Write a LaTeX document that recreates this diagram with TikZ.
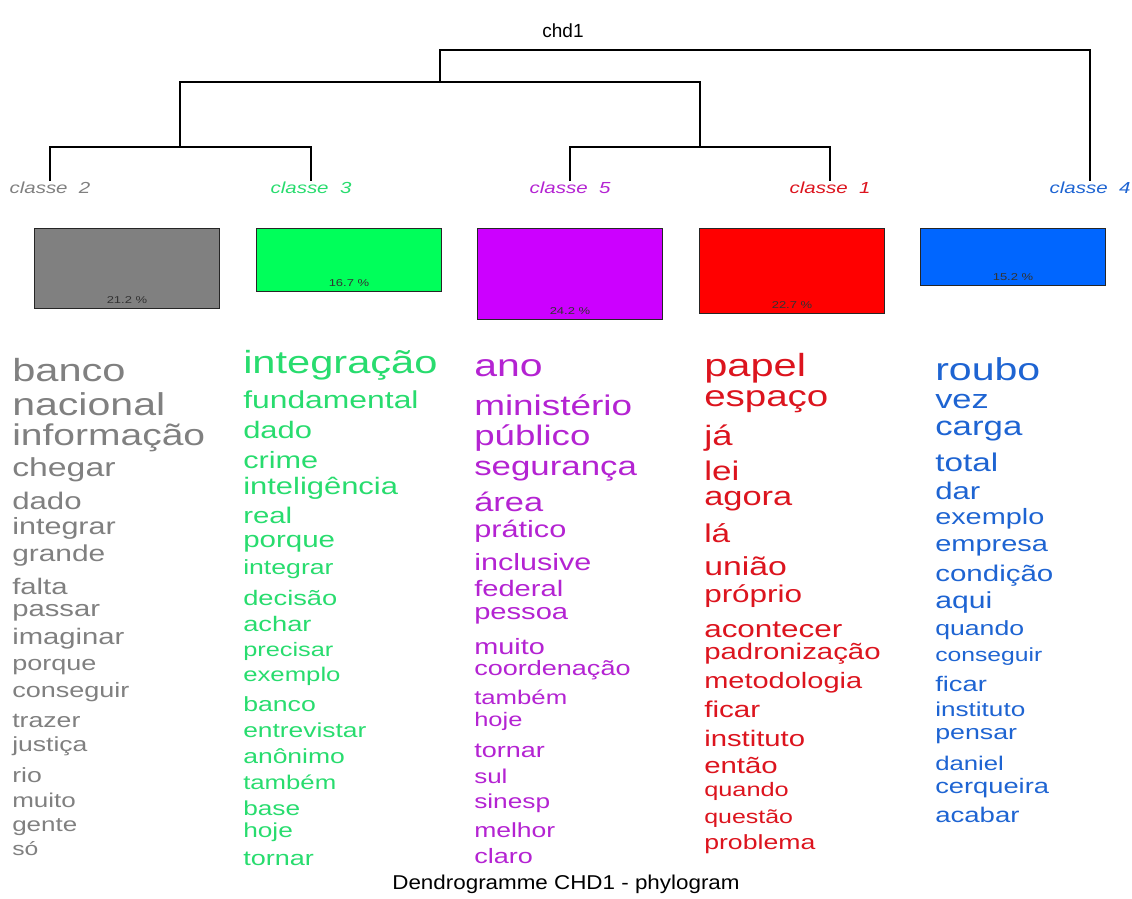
\documentclass[tikz,border=0pt]{standalone}
\usepackage{fontspec}
\setmainfont{Liberation Sans}
\definecolor{cgris}{RGB}{128,128,128}
\definecolor{cvert}{RGB}{40,220,110}
\definecolor{cviolet}{RGB}{180,35,210}
\definecolor{crouge}{RGB}{220,20,30}
\definecolor{cbleu}{RGB}{30,100,210}
\definecolor{fvert}{RGB}{0,255,90}
\definecolor{fviolet}{RGB}{204,0,255}
\definecolor{fbleu}{RGB}{0,102,255}

\begin{document}
\begin{tikzpicture}[x=1pt,y=-1pt,
  box/.style={draw=black!85,line width=1.2pt,minimum width=185pt,anchor=north,inner sep=0},
  pct/.style={font=\fontsize{10}{10}\selectfont,text=black!80,xscale=1.3,inner sep=0},
  classe/.style={font=\fontsize{16}{16}\selectfont\itshape,xscale=1.28,inner sep=1pt,anchor=north},
  word/.style={anchor=base west,inner sep=0,xscale=1.3},
  link/.style={draw,line width=1.1pt}]
\useasboundingbox (0,0) rectangle (1132,898);
\node[font=\fontsize{19}{19}\selectfont] (chd) at (563,31) {chd1};
\node[classe,text=cgris] (c2) at (50,181) {classe\ \ 2};
\node[classe,text=cvert] (c3) at (311,181) {classe\ \ 3};
\node[classe,text=cviolet] (c5) at (570,181) {classe\ \ 5};
\node[classe,text=crouge] (c1) at (830,181) {classe\ \ 1};
\node[classe,text=cbleu] (c4) at (1090,181) {classe\ \ 4};
\coordinate (k23) at (180,147);
\coordinate (k51) at (700,147);
\coordinate (k2351) at (440,82);
\coordinate (kroot) at (765,50);
\draw[link] (c2.north) |- (k23) -| (c3.north);
\draw[link] (c5.north) |- (k51) -| (c1.north);
\draw[link] (k23) |- (k2351) -| (k51);
\draw[link] (k2351) |- (kroot) -| (c4.north);
\node[box,fill=black!50,minimum height=79.5pt] (b2) at (127,228) {};
\node[box,fill=fvert,minimum height=62.6pt] (b3) at (349,228) {};
\node[box,fill=fviolet,minimum height=90.8pt] (b5) at (570,228) {};
\node[box,fill=red,minimum height=85.1pt] (b1) at (792,228) {};
\node[box,fill=fbleu,minimum height=57pt] (b4) at (1013,228) {};
\foreach \b/\p in {b2/21.2,b3/16.7,b5/24.2,b1/22.7,b4/15.2}
  \node[pct] (\b-p) at ([yshift=9pt]\b.south) {\p\ \%};
\begin{scope}
\clip (0,330) rectangle (1132,869);
\foreach \w/\y/\s [count=\i] in {banco/381/32,nacional/415/31.6,informação/445/30,chegar/476/26,
  dado/509/24,integrar/534/23.5,grande/561/23,falta/594/22.5,passar/616/22.5,imaginar/644/22.5,
  porque/670/20.8,conseguir/697/20.8,trazer/727/20.5,justiça/751/20.4,rio/782/20.5,muito/807/20,
  gente/831/20,só/855/19}
  \node[word,text=cgris,font=\fontsize{\s}{\s}\selectfont] (g\i) at (12,\y) {\w};
\foreach \w/\y/\s [count=\i] in {integração/373/32,fundamental/408/24.5,dado/438/23.8,crime/468/23.6,
  inteligência/494/23.8,real/523/22.6,porque/547/22.7,integrar/574/20.5,decisão/605/21,achar/631/21,
  precisar/656/19.5,exemplo/681/19.8,banco/711/20.5,entrevistar/737/20.3,anônimo/763/20.4,
  também/789/19.8,base/815/20.2,hoje/837/20.2,tornar/865/20.8}
  \node[word,text=cvert,font=\fontsize{\s}{\s}\selectfont] (v\i) at (243,\y) {\w};
\foreach \w/\y/\s [count=\i] in {ano/376/31.5,ministério/415/28.4,público/445/28.2,segurança/475/26.8,
  área/511/26.5,prático/537/23.6,inclusive/570/23.5,federal/596/22.4,pessoa/619/22.4,muito/654/22.2,
  coordenação/675/20.8,também/704/19.8,hoje/726/19.6,tornar/757/20.8,sul/783/20,sinesp/808/20.2,
  melhor/837/20.4,claro/863/20.8}
  \node[word,text=cviolet,font=\fontsize{\s}{\s}\selectfont] (p\i) at (474,\y) {\w};
\foreach \w/\y/\s [count=\i] in {papel/376/32,espaço/406/29.6,já/445/28,lei/480/27,agora/505/26.5,
  lá/542/25.7,união/575/26,próprio/602/24.2,acontecer/637/24.2,padronização/659/22.6,
  metodologia/688/22.3,ficar/717/22.8,instituto/746/22.5,então/773/22.6,quando/796/19.5,
  questão/823/19.2,problema/849/20.5}
  \node[word,text=crouge,font=\fontsize{\s}{\s}\selectfont] (r\i) at (704,\y) {\w};
\foreach \w/\y/\s [count=\i] in {roubo/380/31.6,vez/408/26.5,carga/435/26.8,total/471/25.6,dar/499/24,
  exemplo/524/22.2,empresa/551/22.3,condição/581/22.7,aqui/608/23.2,quando/635/20.5,
  conseguir/661/19,ficar/691/21,instituto/716/20.1,pensar/739/20.6,daniel/770/19.8,
  cerqueira/793/21,acabar/822/21.2}
  \node[word,text=cbleu,font=\fontsize{\s}{\s}\selectfont] (l\i) at (935,\y) {\w};
\end{scope}
\node[font=\fontsize{20}{20}\selectfont,xscale=1.12] (titre) at (566,884) {Dendrogramme CHD1 - phylogram};
\end{tikzpicture}
\end{document}
